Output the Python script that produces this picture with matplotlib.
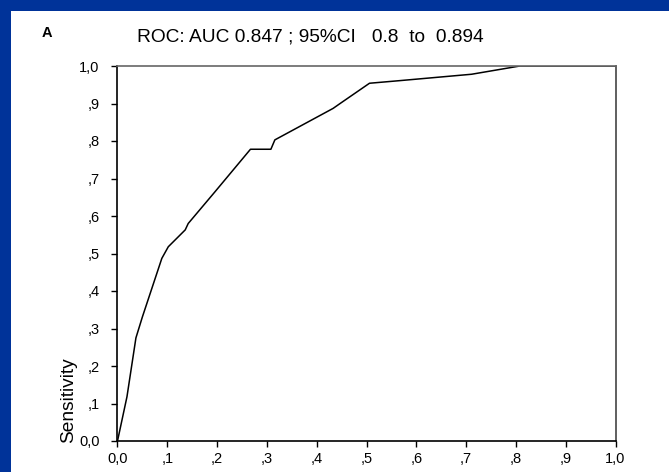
import matplotlib
matplotlib.use("Agg")
import matplotlib.pyplot as plt
from matplotlib.patches import Rectangle

# ROC curve (1 - specificity, sensitivity)
fpr = [0.0, 0.019, 0.037, 0.050, 0.089, 0.102, 0.136, 0.142, 0.196, 0.267,
       0.308, 0.316, 0.433, 0.447, 0.506, 0.567, 0.711, 0.808, 1.0]
tpr = [0.0, 0.118, 0.275, 0.331, 0.487, 0.518, 0.563, 0.580, 0.665, 0.778,
       0.778, 0.803, 0.887, 0.900, 0.954, 0.961, 0.978, 1.0, 1.0]

ticks = [0.0, 0.1, 0.2, 0.3, 0.4, 0.5, 0.6, 0.7, 0.8, 0.9, 1.0]
tick_labels = ["0,0", ",1", ",2", ",3", ",4", ",5", ",6", ",7", ",8", ",9", "1,0"]

title = "ROC: AUC 0.847 ; 95%CI   0.8  to  0.894"

plt.rcParams["font.family"] = ["Liberation Sans", "DejaVu Sans"]

W, H = 669, 472
fig = plt.figure(figsize=(W / 100, H / 100), dpi=100)
fig.patch.set_facecolor("#003399")

# white slide panel behind everything
fig.patches.append(Rectangle((11 / W, 0), 1 - 11 / W, 1 - 11 / H,
                             transform=fig.transFigure, facecolor="white",
                             edgecolor="none", zorder=-5))

ax = fig.add_axes([117.5 / W, 1 - 441 / H, 498 / W, 375 / H])
ax.set_zorder(2)
ax.set_facecolor("white")
ax.plot(fpr, tpr, color="black", lw=1.1)

ax.set_xlim(0, 1)
ax.set_ylim(0, 1)
ax.set_xticks(ticks)
ax.set_xticklabels(tick_labels)
ax.set_yticks(ticks)
ax.set_yticklabels(tick_labels)
ax.tick_params(direction="out", length=4, width=1, labelsize=10.5)
ax.tick_params(axis="x", pad=4)
ax.tick_params(axis="y", pad=9)

ax.spines["left"].set_color("black")
ax.spines["bottom"].set_color("black")
ax.spines["top"].set_color("#666666")
ax.spines["right"].set_color("#444444")
for s in ax.spines.values():
    s.set_linewidth(1.2)

fig.text(47 / W, 1 - 33 / H, "A", fontsize=10.5, fontweight="bold",
         ha="center", va="center", zorder=3)
fig.text(310 / W, 1 - 37 / H, title, fontsize=13.8, ha="center", va="center",
         zorder=3)
fig.text(69 / W, 1 - 400 / H, "Sensitivity", fontsize=13.8, rotation=90,
         ha="center", va="center", zorder=3)

fig.savefig("out.png", dpi=100, facecolor=fig.get_facecolor())
